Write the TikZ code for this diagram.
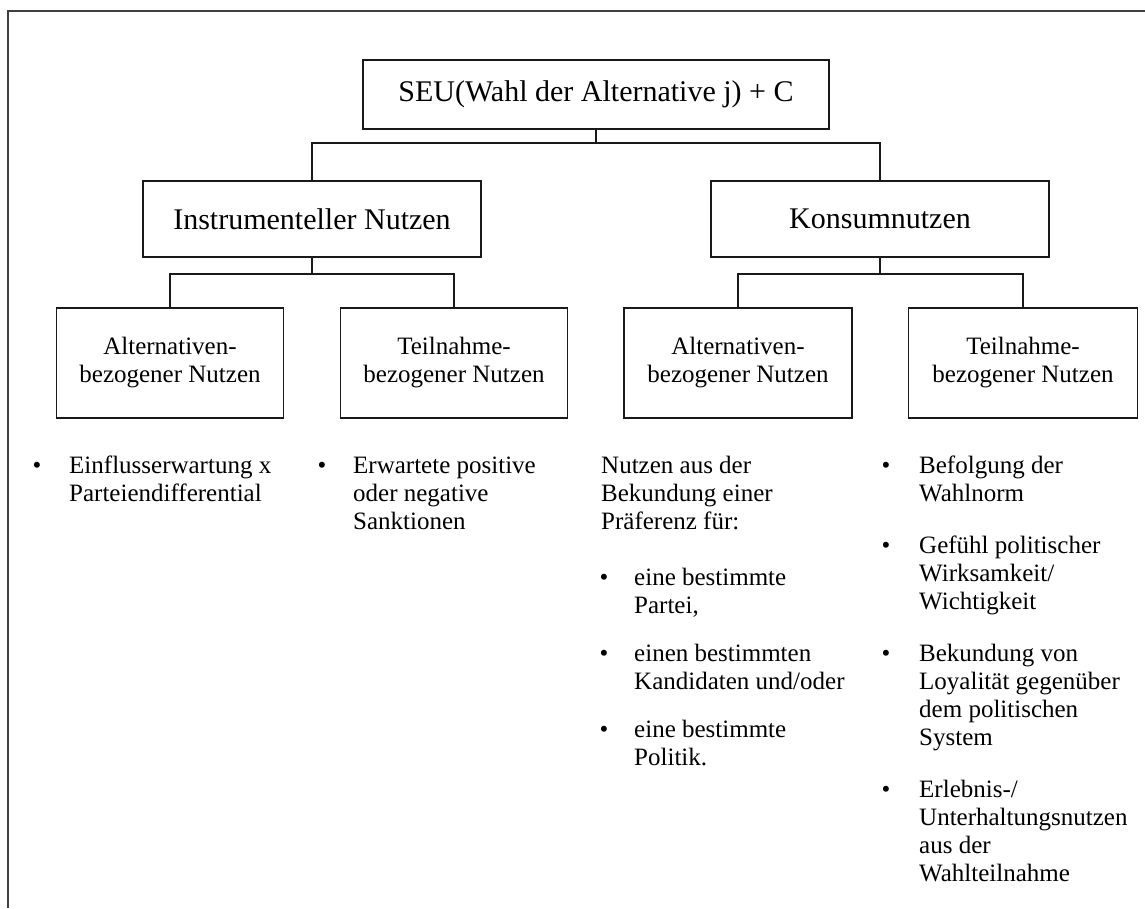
\documentclass[tikz,border=0pt]{standalone}
\usepackage{fontspec}
\setmainfont{Liberation Serif}
\begin{document}
\begin{tikzpicture}[x=1pt,y=-1pt,
  box/.style={draw=black!90, line width=1.6pt, inner sep=0pt, align=center},
  bigtxt/.style={font=\fontsize{30}{36}\selectfont},
  smalltxt/.style={font=\fontsize{25}{28}\selectfont},
  conn/.style={draw=black!90, line width=1.6pt},
  item/.style={anchor=north west, inner sep=0pt, align=left, font=\fontsize{25}{28}\selectfont},
  bul/.style={anchor=base, inner sep=0pt, font=\fontsize{25}{28}\selectfont},
  frame/.style={draw=black!75, line width=2.6pt}
]
\useasboundingbox (0,0) rectangle (1145,908);
% frame
\coordinate (f1) at (8,908);
\coordinate (f2) at (8,11);
\coordinate (f3) at (1145,11);
\draw[frame] (f1) -- (f2) -- (f3);

% boxes
\node[box, bigtxt, minimum width=466pt, minimum height=69pt] (top) at (596,94.5) {SEU(Wahl der Alternative j) + C};
\node[box, bigtxt, minimum width=338pt, minimum height=76pt] (instr) at (312,219) {Instrumenteller Nutzen};
\node[box, bigtxt, minimum width=338pt, minimum height=76pt] (kons) at (880,219) {Konsumnutzen};
\node[box, smalltxt, minimum width=227pt, minimum height=110pt] (ia) at (170,363) {Alternativen-\\bezogener Nutzen};
\node[box, smalltxt, minimum width=227pt, minimum height=110pt] (it) at (454,363) {Teilnahme-\\bezogener Nutzen};
\node[box, smalltxt, minimum width=228pt, minimum height=110pt] (ka) at (738,363) {Alternativen-\\bezogener Nutzen};
\node[box, smalltxt, minimum width=229pt, minimum height=110pt] (kt) at (1023,363) {Teilnahme-\\bezogener Nutzen};

% connectors
\coordinate (j0) at (596,143);
\coordinate (j1) at (312,274);
\coordinate (j2) at (880,274);
\draw[conn] (top.south) -- (j0) -| (instr.north);
\draw[conn] (j0) -| (kons.north);
\draw[conn] (instr.south) -- (j1) -| (ia.north);
\draw[conn] (j1) -| (it.north);
\draw[conn] (kons.south) -- (j2) -| (ka.north);
\draw[conn] (j2) -| (kt.north);

% column 1
\node[bul] (b1) at (37,473) {•};
\node[item] (t1) at (69,453.4) {\strut Einflusserwartung x\\Parteiendifferential};
% column 2
\node[bul] (b2) at (322,473) {•};
\node[item] (t2) at (353,453.4) {\strut Erwartete positive\\oder negative\\Sanktionen};
% column 3
\node[item] (t3) at (601,453.4) {\strut Nutzen aus der\\Bekundung einer\\Präferenz für:};
\node[bul] (b3a) at (604,585) {•};
\node[item] (t3a) at (634,565.4) {\strut eine bestimmte\\Partei,};
\node[bul] (b3b) at (604,661) {•};
\node[item] (t3b) at (634,641.4) {\strut einen bestimmten\\Kandidaten und/oder};
\node[bul] (b3c) at (604,737) {•};
\node[item] (t3c) at (634,717.4) {\strut eine bestimmte\\Politik.};
% column 4
\node[bul] (b4a) at (886,473) {•};
\node[item] (t4a) at (919,453.4) {\strut Befolgung der\\Wahlnorm};
\node[bul] (b4b) at (886,553) {•};
\node[item] (t4b) at (919,533.4) {\strut Gefühl politischer\\Wirksamkeit/\\Wichtigkeit};
\node[bul] (b4c) at (886,661) {•};
\node[item] (t4c) at (919,641.4) {\strut Bekundung von\\Loyalität gegenüber\\dem politischen\\System};
\node[bul] (b4d) at (886,797) {•};
\node[item] (t4d) at (919,777.4) {\strut Erlebnis-/\\Unterhaltungsnutzen\\aus der\\Wahlteilnahme};
\end{tikzpicture}
\end{document}
